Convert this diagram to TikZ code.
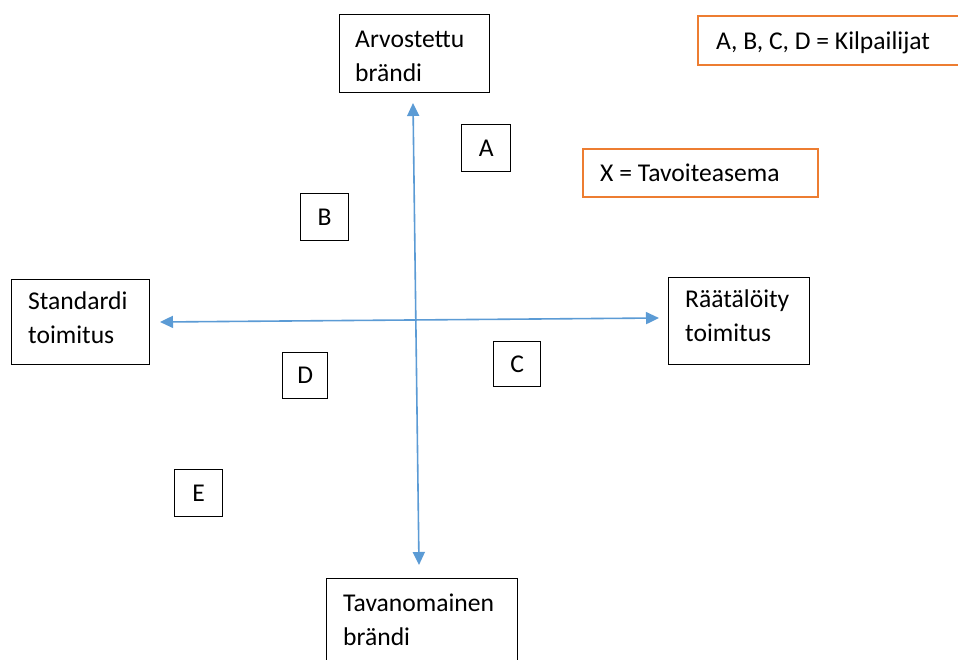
\documentclass[tikz,border=0pt]{standalone}
\usepackage{fontspec}
\setmainfont{Carlito}
\usetikzlibrary{arrows.meta}
\definecolor{axisblue}{HTML}{5B9BD5}
\definecolor{legendorange}{HTML}{ED7D31}
\tikzset{
  box/.style={draw=black, line width=1.3pt, rectangle, inner sep=0pt, anchor=north west},
  legendbox/.style={draw=legendorange, line width=2.4pt, rectangle, inner sep=0pt, anchor=north west},
  txt/.style={inner sep=0pt, align=left, anchor=base west, font=\fontsize{25.6}{34}\selectfont},
  letter/.style={inner sep=0pt, font=\fontsize{25.6}{34}\selectfont},
  axis/.style={draw=axisblue, line width=1.6pt, {Triangle[length=13pt,width=12pt]}-{Triangle[length=13pt,width=12pt]}}
}
\begin{document}
\begin{tikzpicture}[x=1pt,y=-1pt]
\useasboundingbox (0,0) rectangle (958,659);
\clip (0,0) rectangle (958,659);
\fill[white] (0,0) rectangle (958,659);

% axis end points
\coordinate (top) at (413,103);
\coordinate (bottom) at (419,565);
\coordinate (left) at (160,322);
\coordinate (right) at (659,318);
\draw[axis] (top) -- (bottom);
\draw[axis] (left) -- (right);

% pole boxes (text anchored at the baseline of the last line)
\node[box, minimum width=150, minimum height=78] (arv) at (339,14) {};
\node[txt] (arvt) at (355,81) {Arvostettu\\brändi};

\node[box, minimum width=138, minimum height=85] (std) at (11,279) {};
\node[txt] (stdt) at (28,343) {Standardi\\toimitus};

\node[box, minimum width=141, minimum height=87] (raa) at (668,277) {};
\node[txt] (raat) at (685,341) {Räätälöity\\toimitus};

\node[box, minimum width=191, minimum height=100] (tav) at (326,578) {};
\node[txt] (tavt) at (343,645) {Tavanomainen\\brändi};

% competitor boxes
\node[box, minimum width=49, minimum height=47] (a) at (461,124) {};
\node[letter] at (a.center) {A};
\node[box, minimum width=48, minimum height=47] (b) at (300,193) {};
\node[letter] at (b.center) {B};
\node[box, minimum width=47, minimum height=45] (c) at (493,341) {};
\node[letter] at (c.center) {C};
\node[box, minimum width=45, minimum height=46] (d) at (282,352) {};
\node[letter] at (d.center) {D};
\node[box, minimum width=48, minimum height=47] (e) at (174,469) {};
\node[letter] at (e.center) {E};

% legend
\node[legendbox, minimum width=280, minimum height=49] (leg1) at (697,15) {};
\node[txt] (leg1t) at (716,49) {A, B, C, D = Kilpailijat};
\node[legendbox, minimum width=235, minimum height=48] (leg2) at (582,148) {};
\node[txt] (leg2t) at (600,181) {X = Tavoiteasema};
\end{tikzpicture}
\end{document}
